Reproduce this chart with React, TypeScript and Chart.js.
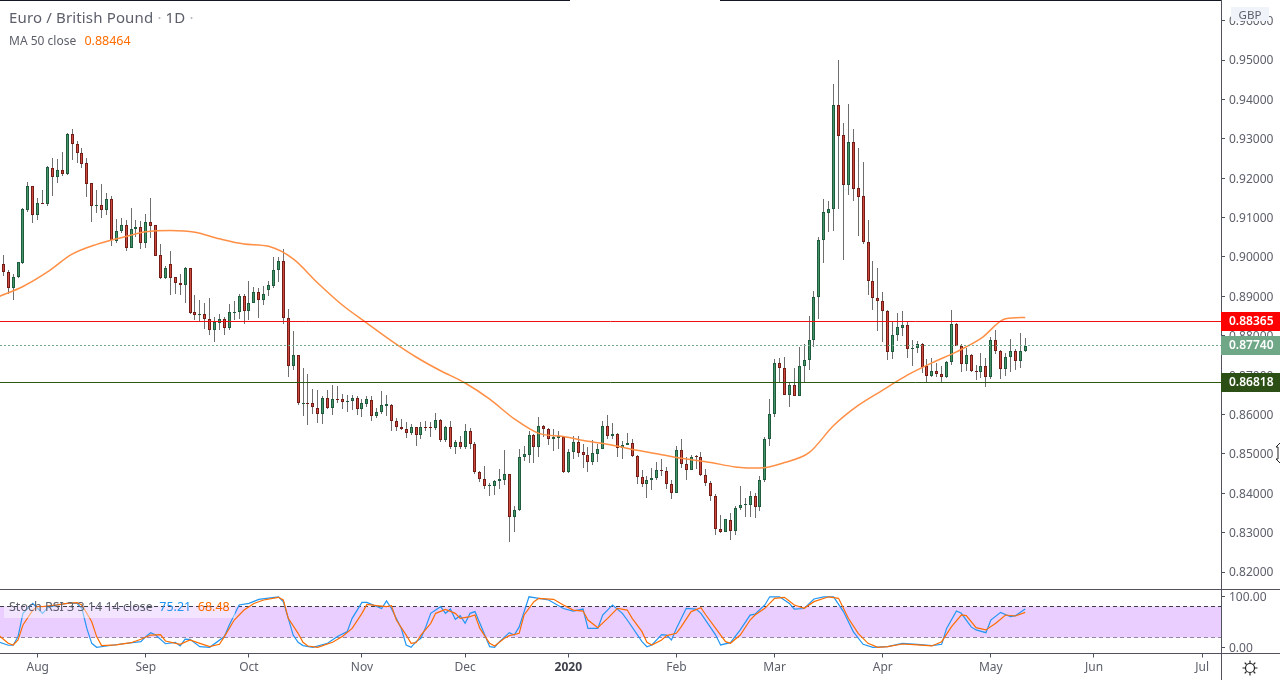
import React, { useEffect, useRef } from "react";
import { Chart, registerables } from "chart.js";

Chart.register(...registerables);

// OHLC in 1/10000 of a pound, one value per trading day
const opensPips = [
  8972, 8983, 8963, 8922, 8950, 8985, 9119, 9179, 9107, 9138,
  9135, 9227, 9204, 9222, 9211, 9311, 9286, 9263, 9238, 9187,
  9130, 9133, 9120, 9146, 9041, 9067, 9080, 9023, 9072, 9075,
  9036, 9088, 9080, 9004, 8947, 8983, 8948, 8935, 8929, 8971,
  8859, 8853, 8856, 8843, 8815, 8833, 8843, 8820, 8858, 8861,
  8902, 8863, 8884, 8910, 8891, 8917, 8927, 8966, 8989,
  8846, 8723, 8750, 8629, 8630, 8630, 8617, 8601, 8643, 8617, 8640,
  8639, 8632, 8634, 8643, 8614, 8627, 8638, 8596, 8606, 8622,
  8625, 8584, 8569, 8564, 8553, 8567, 8548, 8569, 8569, 8566,
  8587, 8535, 8567, 8518, 8529, 8518, 8559, 8526, 8455, 8437,
  8418, 8418, 8431, 8434, 8450, 8340, 8357, 8492, 8497, 8549,
  8518, 8572, 8564, 8538, 8540, 8544, 8454, 8505, 8531, 8504,
  8498, 8479, 8500, 8513, 8572, 8545, 8551, 8515, 8523, 8528,
  8495, 8442, 8424, 8434, 8439, 8460, 8457, 8424, 8401, 8511,
  8475, 8460, 8494, 8493, 8447, 8427, 8394, 8310, 8302, 8333,
  8304, 8362, 8370, 8370, 8394, 8365, 8433, 8538, 8602, 8732,
  8719, 8650, 8676, 8647, 8723, 8739, 8789, 8899, 9044, 9112,
  9123, 9387, 9309, 9183, 9291, 9174, 9154, 9039, 8940, 8897,
  8889, 8864, 8759, 8802, 8820, 8828, 8767, 8769, 8780, 8722,
  8697, 8711, 8704, 8695, 8733, 8831, 8774, 8728, 8752, 8711,
  8708, 8722, 8695, 8788, 8762, 8716, 8746, 8762, 8736, 8761,
];
const closesPips = [
  8983, 8962, 8922, 8950, 8986, 9122, 9180, 9107, 9138, 9135,
  9228, 9204, 9222, 9211, 9311, 9286, 9263, 9237, 9186, 9130,
  9133, 9120, 9146, 9042, 9067, 9080, 9023, 9072, 9075, 9036,
  9088, 9079, 9003, 8947, 8973, 8947, 8934, 8929, 8971, 8858,
  8853, 8856, 8843, 8815, 8834, 8843, 8820, 8859, 8861, 8902,
  8863, 8884, 8910, 8891, 8905, 8928, 8966, 8989, 8845,
  8723, 8750, 8629, 8630, 8629, 8619, 8601, 8643, 8617, 8640, 8636,
  8632, 8635, 8643, 8614, 8628, 8639, 8596, 8607, 8623, 8626,
  8584, 8568, 8562, 8553, 8567, 8548, 8569, 8567, 8566, 8587,
  8535, 8567, 8518, 8529, 8518, 8559, 8525, 8454, 8436, 8418,
  8420, 8432, 8435, 8450, 8340, 8358, 8493, 8499, 8549, 8518,
  8572, 8563, 8537, 8542, 8545, 8454, 8506, 8531, 8502, 8497,
  8479, 8501, 8513, 8572, 8545, 8551, 8516, 8523, 8528, 8495,
  8441, 8424, 8434, 8440, 8460, 8456, 8424, 8401, 8511, 8474,
  8459, 8493, 8491, 8446, 8426, 8393, 8309, 8301, 8334, 8304,
  8363, 8371, 8372, 8394, 8365, 8434, 8539, 8602, 8732, 8718,
  8650, 8676, 8647, 8724, 8739, 8790, 8899, 9044, 9113, 9123,
  9387, 9308, 9183, 9291, 9173, 9153, 9038, 8939, 8896, 8888,
  8863, 8759, 8803, 8821, 8828, 8767, 8770, 8779, 8721, 8698,
  8711, 8703, 8695, 8734, 8831, 8775, 8728, 8752, 8711, 8708,
  8722, 8695, 8788, 8761, 8716, 8747, 8762, 8736, 8762, 8774,
];
const highsPips = [
  8990, 9005, 8968, 8956, 8988, 9124, 9190, 9180, 9149, 9170,
  9231, 9252, 9248, 9266, 9316, 9325, 9294, 9277, 9252, 9187,
  9170, 9185, 9163, 9156, 9097, 9098, 9093, 9124, 9093, 9091,
  9109, 9149, 9082, 9033, 8978, 9015, 8948, 8958, 8975, 8972,
  8903, 8890, 8883, 8895, 8848, 8856, 8848, 8880, 8889, 8905,
  8905, 8938, 8924, 8921, 8927, 8939, 8999, 9000, 9019,
  8869, 8811, 8750, 8717, 8704, 8664, 8661, 8646, 8661, 8676, 8673,
  8653, 8650, 8650, 8646, 8639, 8646, 8646, 8617, 8659, 8649,
  8626, 8591, 8589, 8582, 8575, 8567, 8580, 8584, 8580, 8605,
  8588, 8570, 8584, 8534, 8545, 8575, 8565, 8530, 8456, 8468,
  8427, 8433, 8462, 8509, 8450, 8367, 8512, 8519, 8557, 8551,
  8593, 8573, 8565, 8564, 8557, 8545, 8513, 8545, 8545, 8526,
  8517, 8534, 8524, 8583, 8598, 8578, 8554, 8532, 8554, 8537,
  8496, 8458, 8445, 8465, 8479, 8488, 8467, 8433, 8519, 8539,
  8492, 8498, 8498, 8505, 8461, 8431, 8399, 8346, 8335, 8349,
  8368, 8418, 8388, 8407, 8401, 8444, 8544, 8640, 8742, 8744,
  8745, 8683, 8717, 8772, 8780, 8849, 8913, 9050, 9148, 9142,
  9439, 9500, 9339, 9388, 9325, 9276, 9241, 9093, 8989, 8973,
  8912, 8865, 8835, 8857, 8864, 8835, 8788, 8786, 8782, 8740,
  8744, 8731, 8722, 8735, 8865, 8833, 8780, 8768, 8753, 8725,
  8756, 8743, 8796, 8814, 8764, 8757, 8791, 8767, 8806, 8794,
];
const lowsPips = [
  8966, 8952, 8905, 8890, 8947, 8981, 9114, 9087, 9094, 9134,
  9129, 9155, 9188, 9205, 9209, 9246, 9238, 9226, 9152, 9089,
  9112, 9099, 9106, 9028, 9035, 9061, 9016, 9022, 9050, 9020,
  9022, 9049, 9002, 8944, 8944, 8903, 8907, 8903, 8883, 8855,
  8840, 8836, 8818, 8801, 8784, 8814, 8801, 8814, 8841, 8843,
  8829, 8839, 8882, 8845, 8878, 8901, 8920, 8936, 8829,
  8695, 8712, 8623, 8596, 8573, 8601, 8578, 8575, 8613, 8598, 8629,
  8613, 8606, 8611, 8598, 8594, 8619, 8583, 8591, 8601, 8595,
  8557, 8557, 8560, 8541, 8547, 8520, 8537, 8558, 8543, 8560,
  8530, 8531, 8512, 8500, 8512, 8513, 8512, 8450, 8429, 8410,
  8392, 8395, 8410, 8420, 8276, 8301, 8355, 8481, 8477, 8477,
  8491, 8543, 8522, 8507, 8512, 8451, 8451, 8488, 8492, 8464,
  8454, 8471, 8479, 8512, 8537, 8537, 8492, 8486, 8522, 8492,
  8423, 8416, 8388, 8408, 8434, 8445, 8411, 8385, 8400, 8463,
  8433, 8458, 8461, 8443, 8418, 8380, 8294, 8300, 8301, 8281,
  8294, 8357, 8341, 8340, 8336, 8354, 8429, 8519, 8594, 8682,
  8649, 8619, 8646, 8646, 8682, 8712, 8772, 8842, 8985, 9064,
  9065, 9122, 8992, 9158, 9143, 9054, 9033, 8903, 8865, 8812,
  8783, 8738, 8741, 8787, 8799, 8744, 8722, 8756, 8705, 8682,
  8695, 8695, 8682, 8692, 8725, 8774, 8708, 8710, 8708, 8687,
  8693, 8670, 8691, 8753, 8690, 8697, 8708, 8712, 8718, 8759,
];

// MA 50, read every fifth bar
const maBars = [
  0, 5, 10, 15, 20, 25, 30, 35, 40, 45, 50, 55, 60, 65, 70, 75, 80, 85, 90, 95,
  100, 105, 110, 115, 120, 125, 130, 135, 140, 145, 150, 155, 160, 165, 170, 175,
  180, 185, 190, 195, 200, 205, 209,
];
const maPips = [
  8899, 8925, 8962, 9007, 9032, 9049, 9064, 9067, 9063, 9046, 9033, 9027, 8995, 8934,
  8878, 8832, 8787, 8746, 8711, 8680, 8639, 8589, 8552, 8544, 8532, 8522, 8509, 8498,
  8487, 8478, 8467, 8464, 8478, 8503, 8572, 8623, 8662, 8700, 8731, 8759, 8793, 8843,
  8846.4,
];

// Stoch RSI lines, read at the turning points
const kBars = [
  0, 2, 3, 4, 5, 7, 8, 9, 10, 12, 14, 16, 17, 18, 19, 20, 22, 25, 29, 30, 31, 32, 34, 36, 37, 38, 39, 41,
  43, 46, 47, 49, 51, 53, 57, 58, 59, 60, 61, 62, 64, 67, 69, 71, 72, 74, 75, 78, 79, 80, 82, 83, 84, 85,
  86, 87, 88, 90, 91, 92, 93, 94, 95, 96, 97, 98, 100, 101, 102, 104, 105, 106, 108, 110, 112, 115, 117,
  119, 120, 122, 123, 125, 127, 128, 131, 132, 133, 135, 136, 137, 138, 140, 142, 143, 146, 147, 149, 151,
  153, 154, 156, 157, 159, 161, 162, 164, 166, 168, 170, 172, 174, 176, 178, 181, 184, 187, 190, 192, 193,
  195, 196, 198, 199, 201, 202, 204, 206, 207, 209,
];
const kValues = [
  11, 4, 4, 21, 66.6, 86, 76, 66.6, 77.7, 83, 86, 86, 76, 37, 7.8, 0, 2.6, 6.5, 11, 21, 28.7, 24, 7, 9.8,
  2.6, 16, 15.7, 1.3, 0, 21, 43.7, 83, 86, 94, 99, 89, 56.8, 24, 9.8, 3.3, 0, 7.8, 21, 30.7, 56.8, 88, 88,
  76, 91, 76, 37, 4.6, 0, 11, 17.6, 40, 66.6, 79.6, 66.6, 75, 54.8, 62, 47, 66.6, 70, 47, 1.3, 0, 11, 28.7,
  24, 40, 99, 96, 92.7, 76, 71, 75, 37, 37, 63, 83, 66.6, 53.5, 11, 1, 4.6, 25, 24, 14.4, 37, 76.4, 75, 66.6,
  24, 4.6, 9, 34, 63, 65, 83, 99, 99, 86, 75, 76, 94.7, 99, 99, 70, 30.7, 5.9, 0, 1.3, 7.8, 5.9, 3.3, 5.9,
  37, 71, 66.6, 40, 34, 28.7, 53.5, 68.5, 60, 62, 75.21,
];
const dBars = [
  0, 2, 3, 4, 5, 7, 8, 9, 12, 14, 16, 17, 19, 20, 21, 24, 27, 29, 31, 33, 34, 37, 39, 41, 43, 45, 46, 48,
  50, 52, 54, 57, 58, 59, 61, 62, 63, 65, 68, 70, 72, 74, 75, 77, 79, 80, 81, 83, 84, 85, 86, 88, 89, 91,
  93, 94, 96, 97, 98, 100, 101, 103, 104, 106, 107, 109, 110, 113, 115, 117, 119, 120, 122, 124, 126, 128,
  129, 131, 132, 133, 135, 136, 138, 139, 141, 143, 144, 146, 148, 149, 151, 153, 154, 156, 158, 160, 162,
  164, 166, 169, 171, 173, 175, 177, 179, 181, 184, 187, 190, 192, 194, 196, 197, 199, 201, 203, 205, 207,
  209,
];
const dValues = [
  24, 7.8, 4.6, 14.4, 43.7, 73, 79.6, 79.6, 83, 86, 87.5, 83, 50, 21, 3.3, 4.6, 9, 15.7, 24, 25, 12.4, 5.9,
  14.4, 7.8, 1.3, 5.9, 21, 53.5, 73, 86, 92.7, 98, 92.7, 56.8, 27.4, 9.8, 2.6, 0, 9.8, 21, 37, 66.6, 84,
  81.6, 79.6, 81.6, 53.5, 24, 7.8, 9, 24, 47, 66.6, 74.4, 66.6, 56.8, 60, 63.3, 37, 7.8, 2.6, 17.6, 22.8,
  27.4, 63.3, 89.5, 96, 94, 83, 73, 71, 53.5, 38.5, 56.8, 76.4, 73, 56.8, 30.7, 9.8, 4.6, 14.4, 22.8, 27.4,
  40.5, 70, 77.7, 63.3, 37, 11, 7.8, 24, 53.5, 63.3, 76.4, 96, 98, 83, 76.4, 89.5, 99, 96, 56.8, 27.4, 7.8,
  0, 1.3, 6.5, 4.6, 2.6, 11, 40.5, 63.3, 62, 38.5, 34, 47, 63.3, 61.4, 68.48,
];

const monthBars = [8, 30, 51, 74, 95, 116, 138, 158, 180, 202, 223, 245];
const monthLabels = ["Aug", "Sep", "Oct", "Nov", "Dec", "2020", "Feb", "Mar", "Apr", "May", "Jun", "Jul"];

const priceTicks = [0.82, 0.83, 0.84, 0.85, 0.86, 0.87, 0.88, 0.89, 0.9, 0.91, 0.92, 0.93, 0.94, 0.95, 0.96];
const oscTicks = [0, 100];

const resistance = 0.88365;
const lastClose = 0.8774;
const support = 0.86818;
const oscUpper = 80;
const oscLower = 20;

const FONT = '"Noto Sans", sans-serif';
const TEXT = "#5d606b";
const AXIS = "#50535e";
const UP = "#439569";
const UP_EDGE = "#1f5c3d";
const DOWN = "#cf4a3e";
const DOWN_EDGE = "#741d16";
const WICK = "#6e6e6e";

const X_MIN = 0.326;
const X_MAX = 248.85;

const pip = (v: number) => v / 10000;
const bars = opensPips.map((_, i) => i);

const snapPlugin = {
  id: "pixelSnap",
  afterDatasetsUpdate(chart: any) {
    chart.data.datasets.forEach((ds: any, idx: number) => {
      const meta = chart.getDatasetMeta(idx);
      if (ds.snap === "bar") {
        meta.data.forEach((el: any) => {
          el.x = Math.floor(el.x) + 0.5;
          const a = Math.round(el.y);
          let b = Math.round(el.base);
          if (a === b) b = a + 1;
          el.y = a;
          el.base = b;
        });
      }
      if (ds.snap === "line") {
        meta.data.forEach((el: any) => {
          el.y = Math.floor(el.y) + 0.5;
        });
      }
    });
  },
  beforeDraw(chart: any) {
    // the reference's price labels sit one pixel lower than this font's metrics put them
    ["y", "osc"].forEach((id) => {
      const s = chart.scales[id];
      if (s._labelShifted) return;
      s.getLabelItems(chart.chartArea).forEach((item: any) => {
        item.textOffset += 1;
      });
      s._labelShifted = true;
    });
  },
};

const chromePlugin = {
  id: "chrome",
  afterDraw(chart: any) {
    const { ctx, scales } = chart;
    const a = chart.chartArea;
    ctx.save();
    ctx.fillStyle = "#131722";
    ctx.fillRect(0, 0, 570, 1);
    ctx.fillRect(720, 0, a.right - 720, 1);
    ctx.fillStyle = AXIS;
    ctx.fillRect(0, Math.floor(scales.osc.top), 1280, 1);
    ctx.fillRect(0, Math.floor(a.bottom), 1280, 1);
    ctx.fillRect(a.right, 0, 1, 680);

    const tags = [
      { v: resistance, bg: "#ff0000" },
      { v: lastClose, bg: "#6fa787" },
      { v: support, bg: "#2b4f14" },
    ];
    ctx.font = `600 12px ${FONT}`;
    ctx.textBaseline = "middle";
    ctx.textAlign = "left";
    tags.forEach((t) => {
      const y = Math.floor(scales.y.getPixelForValue(t.v));
      ctx.fillStyle = t.bg;
      ctx.fillRect(a.right, y - 9, 1280 - a.right, 19);
      ctx.fillStyle = "#ffffff";
      ctx.fillText(t.v.toFixed(5), 1229, y + 1);
    });
    ctx.restore();
  },
};

export default function App() {
  const ref = useRef<HTMLCanvasElement | null>(null);

  useEffect(() => {
    document.body.style.margin = "0";
    const hline = (v: number, color: string, yAxisID: string, dash: number[], order: number, extra = {}) => ({
      type: "line" as const,
      yAxisID,
      data: [
        { x: X_MIN, y: v },
        { x: X_MAX, y: v },
      ],
      borderColor: color,
      borderWidth: 1,
      borderDash: dash,
      pointRadius: 0,
      order,
      snap: "line",
      ...extra,
    });
    const chart = new Chart(ref.current as HTMLCanvasElement, {
      type: "bar",
      data: {
        datasets: [
          hline(oscUpper, "#3d3f47", "osc", [4, 3], 3, { fill: "+1", backgroundColor: "#e9ceff" }),
          hline(oscLower, "#3d3f47", "osc", [4, 3], 3),
          {
            type: "line",
            yAxisID: "osc",
            label: "D",
            data: dBars.map((x, i) => ({ x, y: dValues[i] })),
            borderColor: "#ff6d00",
            borderWidth: 1.2,
            pointRadius: 0,
            order: 1,
          },
          {
            type: "line",
            yAxisID: "osc",
            label: "K",
            data: kBars.map((x, i) => ({ x, y: kValues[i] })),
            borderColor: "#2196f3",
            borderWidth: 1.2,
            pointRadius: 0,
            order: 2,
          },
          {
            type: "bar",
            yAxisID: "y",
            label: "wick",
            data: bars.map((i) => ({ x: i, y: [pip(lowsPips[i]), pip(highsPips[i])] })),
            backgroundColor: WICK,
            borderWidth: 0,
            barThickness: 1,
            inflateAmount: 0,
            grouped: false,
            order: 9,
            snap: "bar",
          },
          {
            type: "bar",
            yAxisID: "y",
            label: "body",
            data: bars.map((i) => ({ x: i, y: [pip(opensPips[i]), pip(closesPips[i])] })),
            backgroundColor: bars.map((i) => (closesPips[i] >= opensPips[i] ? UP : DOWN)),
            borderColor: bars.map((i) => (closesPips[i] >= opensPips[i] ? UP_EDGE : DOWN_EDGE)),
            borderWidth: 1,
            borderSkipped: false,
            barThickness: 3,
            inflateAmount: 0,
            grouped: false,
            order: 8,
            snap: "bar",
          },
          {
            type: "line",
            yAxisID: "y",
            label: "MA 50 close",
            data: maBars.map((x, i) => ({ x, y: pip(maPips[i]) })),
            borderColor: "#ff8f45",
            borderWidth: 1.5,
            pointRadius: 0,
            cubicInterpolationMode: "monotone",
            order: 5,
          },
          hline(resistance, "#f00f0f", "y", [], 4),
          hline(lastClose, "#6fa787", "y", [2, 2], 4),
          hline(support, "#2b5a10", "y", [], 4),
        ] as any,
      },
      options: {
        responsive: false,
        animation: false,
        devicePixelRatio: 1,
        layout: { padding: 0 },
        plugins: { legend: { display: false }, tooltip: { enabled: false } },
        scales: {
          x: {
            type: "linear",
            offset: false,
            min: X_MIN,
            max: X_MAX,
            grid: { drawOnChartArea: false, tickLength: 4, tickColor: AXIS, offset: false },
            border: { color: AXIS },
            afterBuildTicks: (s: any) => {
              s.ticks = monthBars.map((value) => ({ value }));
            },
            afterFit: (s: any) => {
              s.height = 26.5;
              s.paddingLeft = 0;
              s.paddingRight = 0;
            },
            ticks: {
              autoSkip: false,
              maxRotation: 0,
              padding: 3,
              color: (c: any) => (c.tick && c.tick.value === 116 ? "#3e414b" : TEXT),
              font: (c: any) => ({
                family: FONT,
                size: 12,
                weight: c.tick && c.tick.value === 116 ? "bold" : "normal",
              }),
              callback: (v: any) => monthLabels[monthBars.indexOf(v)],
            },
          },
          y: {
            position: "right",
            stack: "panes",
            stackWeight: 589.5,
            min: 0.815565,
            max: 0.965248,
            grid: { drawOnChartArea: false, tickLength: 4, tickColor: AXIS },
            border: { color: AXIS },
            afterBuildTicks: (s: any) => {
              s.ticks = priceTicks.map((value) => ({ value }));
            },
            afterFit: (s: any) => {
              s.width = 59;
              s.paddingTop = 0;
              s.paddingBottom = 0;
            },
            ticks: {
              autoSkip: false,
              padding: 4,
              color: TEXT,
              font: { family: FONT, size: 12 },
              callback: (v: any) => Number(v).toFixed(5),
            },
          },
          osc: {
            position: "right",
            stack: "panes",
            stackWeight: 64,
            min: -12.16,
            max: 113.3,
            grid: { drawOnChartArea: false, tickLength: 4, tickColor: AXIS },
            border: { color: AXIS },
            afterBuildTicks: (s: any) => {
              s.ticks = oscTicks.map((value) => ({ value }));
            },
            afterFit: (s: any) => {
              s.width = 59;
              s.paddingTop = 0;
              s.paddingBottom = 0;
            },
            ticks: {
              autoSkip: false,
              padding: 4,
              color: TEXT,
              font: { family: FONT, size: 12 },
              callback: (v: any) => Number(v).toFixed(2),
            },
          },
        },
      } as any,
      plugins: [snapPlugin, chromePlugin] as any,
    });
    return () => chart.destroy();
  }, []);

  const legend: React.CSSProperties = {
    position: "absolute",
    left: 9,
    fontFamily: FONT,
    whiteSpace: "pre",
    color: TEXT,
    lineHeight: "16px",
  };

  return (
    <div style={{ position: "absolute", left: 0, top: 0, width: 1280, height: 680, overflow: "hidden", background: "#fff" }}>
      <canvas ref={ref} width={1280} height={680} style={{ display: "block" }} />
      <div style={{ ...legend, top: 9, fontSize: 15, letterSpacing: 0.15 }}>
        Euro / British Pound <span style={{ color: "#b2b5be" }}>·</span> 1D <span style={{ color: "#b2b5be" }}>·</span>
      </div>
      <div style={{ ...legend, top: 33, fontSize: 12 }}>
        MA 50 close{"  "}
        <span style={{ color: "#ff6d00", fontSize: 12.5, marginLeft: 2 }}>0.88464</span>
      </div>
      <div style={{ position: "absolute", left: 4, top: 607, width: 231, height: 11, background: "rgba(255,255,255,0.45)" }} />
      <div style={{ ...legend, top: 599, fontSize: 12.5 }}>
        Stoch RSI 3 3 14 14 close{"  "}
        <span style={{ color: "#2196f3" }}>75.21</span>
        {"  "}
        <span style={{ color: "#ff6d00" }}>68.48</span>
      </div>
      <div
        style={{
          position: "absolute",
          left: 1231,
          top: 7,
          width: 38,
          height: 14,
          background: "#f0f3fa",
          color: TEXT,
          fontFamily: FONT,
          fontSize: 11.5,
          lineHeight: "16px",
          textAlign: "center",
        }}
      >
        GBP
      </div>
      <svg style={{ position: "absolute", left: 1241, top: 659, width: 18, height: 18 }} viewBox="0 0 18 18">
        <circle cx="9" cy="9" r="4.5" fill="none" stroke="#222" strokeWidth="1.2" />
        <path
          d="M9 1.5V4M9 14v2.5M1.5 9H4M14 9h2.5M3.7 3.7l1.8 1.8M12.5 12.5l1.8 1.8M3.7 14.3l1.8-1.8M12.5 5.5l1.8-1.8"
          stroke="#222"
          strokeWidth="1.2"
        />
      </svg>
      <svg style={{ position: "absolute", left: 1275, top: 442, width: 5, height: 22 }} viewBox="0 0 5 22">
        <path d="M5 1L1 5h2v12H1l4 4" fill="#fff" stroke="#222" strokeWidth="1" />
      </svg>
    </div>
  );
}
